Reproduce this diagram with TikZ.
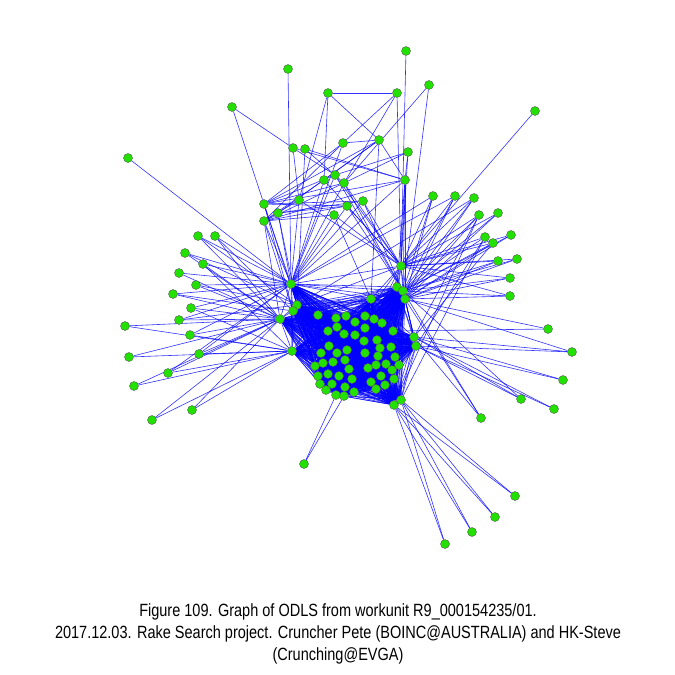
\documentclass[tikz,border=0pt]{standalone}
\usepackage{fontspec}
\setmainfont{Liberation Sans}
\newfontfamily\capfont[FakeStretch=0.82]{Liberation Sans}
\usetikzlibrary{backgrounds}
\definecolor{nodegreen}{RGB}{34,224,0}
\definecolor{edgeblue}{RGB}{0,0,255}
\tikzset{
  dot/.style={circle,inner sep=0pt,minimum size=9pt,fill=nodegreen,draw=black!65,line width=0.4pt},
  edge/.style={draw=edgeblue,line width=0.6pt,opacity=0.8},
  captext/.style={font=\capfont\fontsize{17.7}{20}\selectfont,anchor=base,inner sep=0pt}
}
\begin{document}
\begin{tikzpicture}[x=1pt,y=-1pt]
\useasboundingbox (0,0) rectangle (675,675);
% outer and hub nodes
\foreach \n/\x/\y in {
 t1/288/69, t2/232/107, t3/128/158, t4/328/93, t5/397/93, t6/406/51, t7/429/85, t8/535/111,
 u1/293/148, u2/305/149, u3/343/143, u4/379/140, u5/408/152, u6/335/175, u7/324/180, u8/344/183,
 u9/405/180, u10/264/204, u11/299/200, u12/347/206, u13/363/201, u14/278/213, u15/264/221, u16/334/215,
 r1/433/196, r2/455/196, r3/474/198, r4/479/215, r5/498/213, r6/485/237, r7/493/243, r8/511/235,
 r9/498/261, r10/517/259, r11/510/278, r12/510/296,
 s1/548/329, s2/572/352, s3/563/380, s4/521/399, s5/554/409, s6/481/418,
 b1/304/464, b2/445/544, b3/472/532, b4/495/517, b5/515/496,
 l1/198/236, l2/215/236, l3/185/253, l4/203/264, l5/179/273, l6/196/285, l7/173/294, l8/191/308,
 l9/179/320, l10/125/326, l11/190/335, l12/129/357, l13/199/354, l14/168/373, l15/134/386,
 l16/192/410, l17/152/420, hF/401/266}
  \node[dot] (\n) at (\x,\y) {};
% core nodes (k1..k63)
\foreach \n/\x/\y in {
 1/291/284, 2/297/305, 3/293/311, 4/280/319, 5/292/351, 6/397/287, 7/403/291, 8/405/299,
 9/371/299, 10/414/337, 11/416/346, 12/394/405, 13/401/400,
 14/318/315, 15/336/318, 16/346/316, 17/365/316, 18/374/319, 19/382/323, 20/355/322, 21/337/327,
 22/365/328, 23/328/331, 24/344/334, 25/355/335, 26/393/331, 27/364/341, 28/377/340, 29/329/346,
 30/347/350, 31/337/353, 32/321/353, 33/365/353, 34/380/348, 35/391/347, 36/345/360, 37/323/363,
 38/333/362, 39/378/356, 40/395/357, 41/315/366, 42/328/374, 43/349/369, 44/376/365, 45/386/364,
 46/399/365, 47/392/370, 48/368/368, 49/339/376, 50/318/376, 51/381/376, 52/394/379, 53/352/379,
 54/320/384, 55/332/384, 56/345/387, 57/371/382, 58/385/385, 59/326/390, 60/336/395, 61/344/396,
 62/354/392, 63/376/389}
  \node[dot] (k\n) at (\x,\y) {};
\begin{pgfonlayer}{background}
\fill[white] (0,0) rectangle (675,675);
% dense core: all pairs
\foreach \i in {1,...,62}{
  \pgfmathtruncatemacro\s{\i+1}
  \foreach \j in {\s,...,63}{ \draw[edge] (k\i) -- (k\j); }
}
% outer connections
\foreach \a/\b in {
 l1/k1, l1/k4, l1/k2, l2/k1, l2/k4, l2/k3, l3/k1, l3/k4, l3/k2, l4/k1, l4/k4, l4/k5,
 l5/k1, l5/k4, l6/k1, l6/k4, l6/k2, l7/k1, l7/k4, l7/k3, l8/k1, l8/k4, l8/k5, l9/k1, l9/k4, l9/k2,
 l10/k4, l10/k5, l11/k1, l11/k4, l11/k5, l12/k5, l12/k4, l13/k1, l13/k4, l13/k5, l14/k4, l14/k5, l14/k1,
 l15/k5, l15/k4, l16/k4, l16/k5, l17/k4, l17/k5,
 r1/hF, r1/k7, r1/k8, r2/hF, r2/k7, r2/k8, r3/hF, r3/k7, r3/k8, r4/hF, r4/k7, r4/k8, r4/k10,
 r5/hF, r5/k7, r5/k8, r6/hF, r6/k7, r6/k11, r7/hF, r7/k7, r7/k8, r7/k10, r8/hF, r8/k7, r8/k8,
 r9/hF, r9/k7, r9/k8, r10/hF, r10/k7, r10/k8, r11/hF, r11/k7, r11/k8, r12/k7, r12/k8, r12/hF,
 r6/k13, r4/k12, r1/k1, r2/k1, r3/k2,
 s1/k8, s1/k26, s2/k10, s2/k11, s2/k8, s3/k10, s3/k11, s4/k10, s4/k11, s4/k7, s5/k10, s5/k11,
 s6/k7, s6/k8, s6/k10,
 b1/k60, b1/k61, b2/k12, b2/k13, b3/k12, b3/k13, b4/k12, b4/k13, b5/k12, b5/k13,
 t1/k1, t2/u1, t2/u10, t3/k1, t4/t5, t4/u4, t4/u7, t4/u11, t5/u3, t5/hF, t5/u8, t6/hF, t7/u8, t7/k7, t8/hF,
 u1/u6, u1/u9, u1/u11, u2/u8, u2/u9, u2/k2, u3/u4, u3/u10, u3/k1, u3/u15,
 u4/u7, u4/u10, u4/u14, u4/u9, u4/k9, u5/u8, u5/u6, u5/u9, u5/hF,
 u6/hF, u6/k7, u6/u10, u6/k1, u7/k1, u7/hF, u7/u15, u8/k7, u8/hF, u8/k1, u8/u10, u8/u15,
 u9/hF, u9/k6, u9/k7, u9/k8, u9/u10, u9/u15, u9/k1,
 u10/u12, u10/u13, u10/k1, u10/k2, u10/k3, u11/k1, u11/hF, u11/u15, u12/k1, u12/hF, u12/u15,
 u13/hF, u13/k7, u13/u14, u13/k1, u12/k7, u14/k1, u14/k2, u14/u12, u15/u16, u15/k1, u15/k3, u15/k4,
 u16/k1, u16/hF, u16/k9,
 k1/hF, k2/hF, hF/k6, hF/k7, hF/k8, hF/k9, hF/k17, hF/k18, hF/k19, hF/k26}
  \draw[edge] (\a) -- (\b);
\end{pgfonlayer}
% caption
\node[captext] (c1) at (338,616) {Figure 109. Graph of ODLS from workunit R9\_000154235/01.};
\node[captext] (c2) at (338,638) {2017.12.03. Rake Search project. Cruncher Pete (BOINC@AUSTRALIA) and HK-Steve};
\node[captext] (c3) at (338,660) {(Crunching@EVGA)};
\end{tikzpicture}
\end{document}
